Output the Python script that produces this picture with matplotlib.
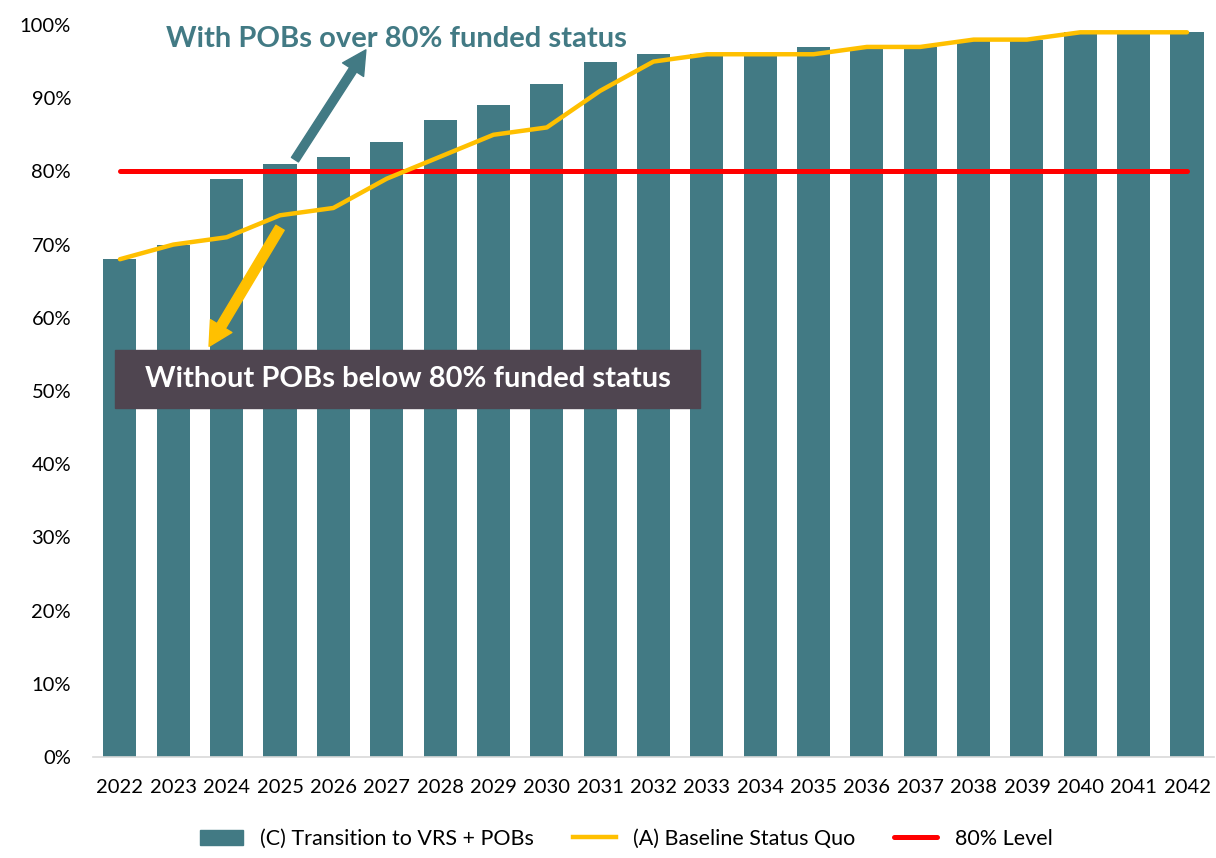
import matplotlib.pyplot as plt
from matplotlib.patches import Rectangle, Patch
from matplotlib.lines import Line2D

years = [str(y) for y in range(2022, 2043)]
vrs_pobs = [68, 70, 79, 81, 82, 84, 87, 89, 92, 95, 96, 96, 96, 97, 97, 97, 98, 98, 99, 99, 99]
baseline = [68, 70, 71, 74, 75, 79, 82, 85, 86, 91, 95, 96, 96, 96, 97, 97, 98, 98, 99, 99, 99]
level = 80

TEAL = '#427A84'
GOLD = '#FFC000'
RED = '#FF0000'
BOX = '#4F4550'

plt.rcParams['font.family'] = ['Lato', 'DejaVu Sans']

fig = plt.figure(figsize=(12.16, 8.58), dpi=100)
ax = fig.add_axes([0.0767, 0.1177, 0.9214, 0.8532])

x = list(range(len(years)))
ax.bar(x, [v / 100 for v in vrs_pobs], width=0.62, color=TEAL, zorder=1)
ax.plot(x, [v / 100 for v in baseline], color=GOLD, lw=3.2, solid_capstyle='round', zorder=3)
ax.plot([x[0], x[-1]], [level / 100] * 2, color=RED, lw=3.6, solid_capstyle='round', zorder=2)

ax.set_xlim(-0.5, len(years) - 0.5)
ax.set_ylim(0, 1.0)
ax.set_xticks(x)
ax.set_xticklabels(years)
ax.set_yticks([i / 10 for i in range(11)])
ax.set_yticklabels([f'{i * 10}%' for i in range(11)])
ax.tick_params(length=0, labelsize=14.5)
ax.tick_params(axis='x', pad=16)
ax.tick_params(axis='y', pad=16)
for s in ax.spines.values():
    s.set_visible(False)
ax.spines['bottom'].set_visible(True)
ax.spines['bottom'].set_color('#D9D9D9')
ax.spines['bottom'].set_linewidth(1.2)

# annotations
ax.annotate('', xy=(4.61, 0.966), xytext=(3.28, 0.816),
            arrowprops=dict(arrowstyle='simple,head_width=1.8,head_length=1.7,tail_width=0.6',
                            color=TEAL, shrinkA=0, shrinkB=0, mutation_scale=10), zorder=5)
ax.text(5.19, 0.981, 'With POBs over 80% funded status', color=TEAL, fontsize=21,
        fontweight='bold', ha='center', va='center', zorder=5)

ax.annotate('', xy=(1.67, 0.561), xytext=(3.0, 0.723),
            arrowprops=dict(arrowstyle='simple,head_width=1.8,head_length=1.7,tail_width=0.7',
                            color=GOLD, shrinkA=0, shrinkB=0, mutation_scale=10), zorder=5)
ax.add_patch(Rectangle((-0.09, 0.477), 10.96, 0.079, color=BOX, zorder=6))
ax.text(5.39, 0.516, 'Without POBs below 80% funded status', color='white', fontsize=21,
        fontweight='bold', ha='center', va='center', zorder=7)

handles = [Patch(color=TEAL, label='(C) Transition to VRS + POBs'),
           Line2D([], [], color=GOLD, lw=3.2, label='(A) Baseline Status Quo'),
           Line2D([], [], color=RED, lw=3.6, solid_capstyle='round', label='80% Level')]
fig.legend(handles=handles, loc='lower center', ncol=3, frameon=False, fontsize=15.5,
           bbox_to_anchor=(0.515, -0.012), columnspacing=1.8, handlelength=2.0,
           handletextpad=0.8)

fig.savefig('out.png', dpi=100)
